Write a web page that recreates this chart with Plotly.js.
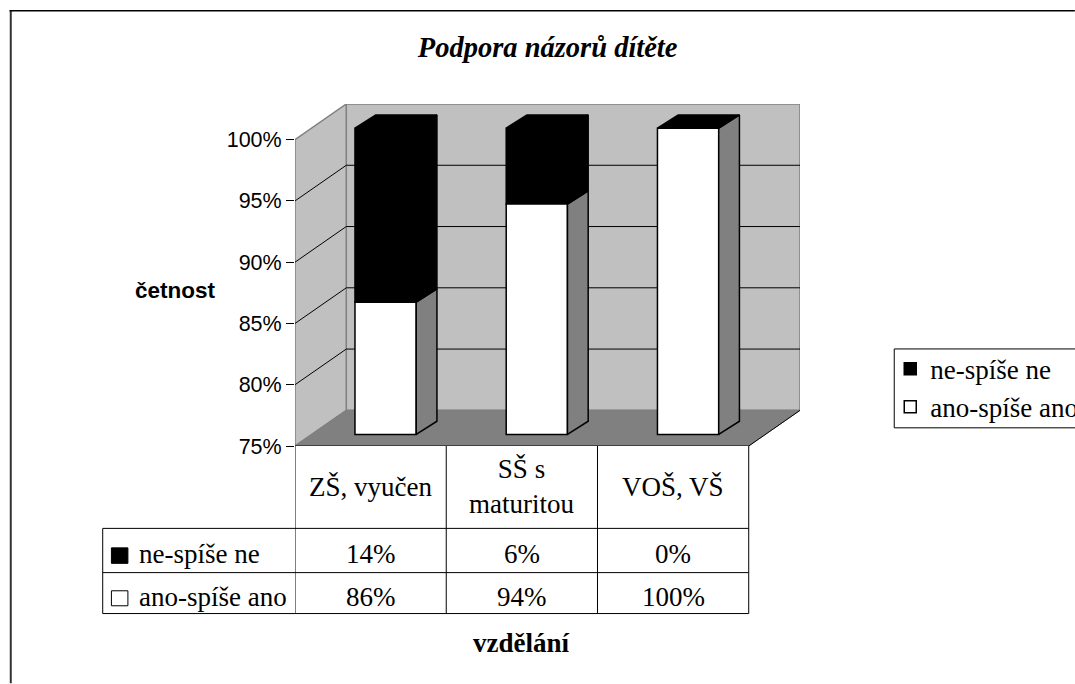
<!DOCTYPE html>
<html>
<head>
<meta charset="utf-8">
<script src="https://cdn.plot.ly/plotly-3.0.1.min.js"></script>
<style>html,body{margin:0;padding:0;background:#fff;overflow:hidden}#chart{width:1075px;height:684px}</style>
</head>
<body>
<div id="chart"></div>
<script>
// ---- data ----
var categories = ["ZŠ, vyučen", "SŠ s<br>maturitou", "VOŠ, VŠ"];
var seriesNames = ["ne-spíše ne", "ano-spíše ano"];
var anoValues = [85.8, 93.8, 100];
var neValues = [14.2, 6.2, 0];
var yTicks = [75, 80, 85, 90, 95, 100];
var titleText = "Podpora názorů dítěte";
var yTitle = "četnost";
var xTitle = "vzdělání";

// ---- layout geometry (pixels of the page) ----
var W = 1075, H = 684;
var plotL = 294.7, plotR = 800, plotT = 104, plotB = 446.5;
var tableL = 102.3, tableRows = [529, 573.3, 614.3];
// depth of the oblique projection, in axis units
var depthX = 0.339, depthY = 2.91;
var barOffX = 0.099, barOffY = 0.94;
var barDepthX = 0.137, barDepthY = 1.08;
var barWidth = 0.405;
var yMin = 75, yMax = 100;

var serif = "'Liberation Serif', serif", sans = "'Liberation Sans', Arial, sans-serif";
function px(x) { return (x - plotL) / (plotR - plotL); }
function py(y) { return (plotB - y) / (plotB - plotT); }

// ---- bars ----
var xFront = categories.map(function (_, i) { return i + 0.5 + barOffX; });
function base(v) { return v + barOffY; }

var traces = [
  { type: "bar", name: seriesNames[0], x: xFront,
    y: neValues, base: anoValues.map(base), width: barWidth,
    marker: { color: "#000000", line: { color: "#000000", width: 1.5 } }, hoverinfo: "skip" },
  { type: "bar", name: seriesNames[1], x: xFront,
    y: anoValues.map(function (v) { return v - yMin; }), base: anoValues.map(function () { return base(yMin); }), width: barWidth,
    marker: { color: "#ffffff", line: { color: "#000000", width: 1.5 } }, hoverinfo: "skip" }
];

function face(xs, ys, fill) {
  return { type: "scatter", mode: "lines", x: xs, y: ys, fill: "toself", fillcolor: fill,
           line: { color: "#000000", width: 1.5 }, showlegend: false, hoverinfo: "skip" };
}
xFront.forEach(function (xc, i) {
  var r = xc + barWidth / 2, l = xc - barWidth / 2;
  var b = base(yMin), m = base(anoValues[i]), t = base(100);
  // grey side of the lower segment
  traces.push(face([r, r + barDepthX, r + barDepthX, r, r], [b, b + barDepthY, m + barDepthY, m, b], "#808080"));
  // black side of the upper segment
  if (neValues[i] > 0) {
    traces.push(face([r, r + barDepthX, r + barDepthX, r, r], [m, m + barDepthY, t + barDepthY, t, m], "#000000"));
  }
  // top
  traces.push(face([l, l + barDepthX, r + barDepthX, r, l], [t, t + barDepthY, t + barDepthY, t, t], "#000000"));
});

// ---- walls, floor, grid ----
function poly(pts) {
  return pts.map(function (p, i) { return (i ? "L" : "M") + p[0] + "," + p[1]; }).join(" ") + " Z";
}
var shapes = [];
var nCat = categories.length;
shapes.push({ type: "path", xref: "x", yref: "y", layer: "below", fillcolor: "#C0C0C0",
  line: { color: "#808080", width: 1.5 },
  path: poly([[depthX, yMin + depthY], [nCat + depthX, yMin + depthY], [nCat + depthX, yMax + depthY], [depthX, yMax + depthY]]) });
shapes.push({ type: "path", xref: "x", yref: "y", layer: "below", fillcolor: "#C0C0C0",
  line: { color: "#808080", width: 1.5 },
  path: poly([[0, yMin], [depthX, yMin + depthY], [depthX, yMax + depthY], [0, yMax]]) });
shapes.push({ type: "path", xref: "x", yref: "y", layer: "below", fillcolor: "#808080",
  line: { color: "#808080", width: 1 },
  path: poly([[0, yMin], [nCat, yMin], [nCat + depthX, yMin + depthY], [depthX, yMin + depthY]]) });
yTicks.slice(1, -1).forEach(function (v) {
  shapes.push({ type: "line", xref: "x", yref: "y", layer: "below", x0: 0, y0: v, x1: depthX, y1: v + depthY, line: { color: "#000000", width: 1 } });
  shapes.push({ type: "line", xref: "x", yref: "y", layer: "below", x0: depthX, y0: v + depthY, x1: nCat + depthX, y1: v + depthY, line: { color: "#000000", width: 1 } });
});
// floor front edge + side edge
shapes.push({ type: "line", xref: "x", yref: "y", x0: 0, y0: yMin, x1: nCat, y1: yMin, line: { color: "#000000", width: 1.2 } });
shapes.push({ type: "line", xref: "x", yref: "y", x0: nCat, y0: yMin, x1: nCat + depthX, y1: yMin + depthY, line: { color: "#000000", width: 1 } });

// ---- data table grid ----
var tl = { color: "#000000", width: 1 };
for (var i = 0; i <= nCat; i++) {
  shapes.push({ type: "line", xref: "x", yref: "paper", x0: i, x1: i, y0: py(plotB), y1: py(tableRows[2]), line: tl });
}
tableRows.forEach(function (r) {
  shapes.push({ type: "line", xref: "paper", yref: "paper", x0: px(tableL), x1: 1 * (nCat) / (nCat + depthX), y0: py(r), y1: py(r), line: tl });
});
shapes.push({ type: "line", xref: "paper", yref: "paper", x0: px(tableL), x1: px(tableL), y0: py(tableRows[0]), y1: py(tableRows[2]), line: tl });
// table keys
shapes.push({ type: "rect", xref: "paper", yref: "paper", x0: px(111), x1: px(127.5), y0: py(564), y1: py(548.5), fillcolor: "#000", line: { color: "#000", width: 1 } });
shapes.push({ type: "rect", xref: "paper", yref: "paper", x0: px(111), x1: px(127.5), y0: py(606.5), y1: py(591.5), fillcolor: "#fff", line: { color: "#000", width: 1 } });
// outer chart frame
shapes.push({ type: "line", xref: "paper", yref: "paper", x0: px(10.3), x1: px(10.3), y0: py(10), y1: py(H), line: { color: "#333", width: 2 } });
shapes.push({ type: "line", xref: "paper", yref: "paper", x0: px(9), x1: px(W), y0: py(10.5), y1: py(10.5), line: { color: "#000", width: 1.5 } });
// legend frame (runs past the right edge of the page)
shapes.push({ type: "rect", xref: "paper", yref: "paper", x0: px(894.3), x1: px(W + 10), y0: py(428.3), y1: py(349.3), fillcolor: "#fff", line: { color: "#000", width: 1 } });

// ---- texts ----
var annotations = [];
function note(text, xv, xref, yv, size, fam, anchor, bold) {
  annotations.push({ text: bold ? "<b>" + text + "</b>" : text, x: xv, xref: xref, y: py(yv), yref: "paper",
    xanchor: anchor || "center", yanchor: "middle", showarrow: false,
    font: { family: fam, size: size, color: "#000" } });
}
var tableFont = 27;
categories.forEach(function (c, i) {
  note(c, i + 0.5, "x", 487.5, tableFont, serif);
  note(Math.round(neValues[i]) + "%", i + 0.5, "x", 554.5, tableFont, serif);
  note(Math.round(anoValues[i]) + "%", i + 0.5, "x", 597.5, tableFont, serif);
});
note(seriesNames[0], px(136.7), "paper", 554.5, tableFont, serif, "left");
note(seriesNames[1], px(136.7), "paper", 597.5, tableFont, serif, "left");
note(yTitle, px(175), "paper", 291, 22.5, sans, "center", true);
note(xTitle, px(521), "paper", 644, 27, serif, "center", true);

var layout = {
  width: W, height: H,
  paper_bgcolor: "#ffffff", plot_bgcolor: "rgba(0,0,0,0)",
  margin: { l: plotL, r: W - plotR, t: plotT, b: H - plotB, pad: 0, autoexpand: false },
  barmode: "overlay",
  title: { text: "<b><i>" + titleText + "</i></b>", x: 547.6 / W, xref: "container", xanchor: "center",
           y: 1 - 47 / H, yref: "container", yanchor: "middle",
           font: { family: serif, size: 28.5, color: "#000" } },
  xaxis: { range: [0, nCat + depthX], showgrid: false, zeroline: false, showline: false,
           showticklabels: false, ticks: "", fixedrange: true },
  yaxis: { range: [yMin, yMax + depthY], tickmode: "array", tickvals: yTicks,
           ticktext: yTicks.map(function (v) { return v + "%"; }),
           showgrid: false, zeroline: false, showline: false, ticks: "outside", ticklen: 8,
           tickcolor: "#000", tickwidth: 1, fixedrange: true,
           tickfont: { family: sans, size: 21.5, color: "#000" } },
  showlegend: true,
  legend: { x: px(890.3), xanchor: "left", y: py(345), yanchor: "top",
            bgcolor: "rgba(0,0,0,0)", borderwidth: 0, traceorder: "normal",
            tracegroupgap: 0, font: { family: serif, size: 27, color: "#000" } },
  shapes: shapes,
  annotations: annotations
};
Plotly.newPlot("chart", traces, layout, { staticPlot: true, displayModeBar: false });
</script>
</body>
</html>
